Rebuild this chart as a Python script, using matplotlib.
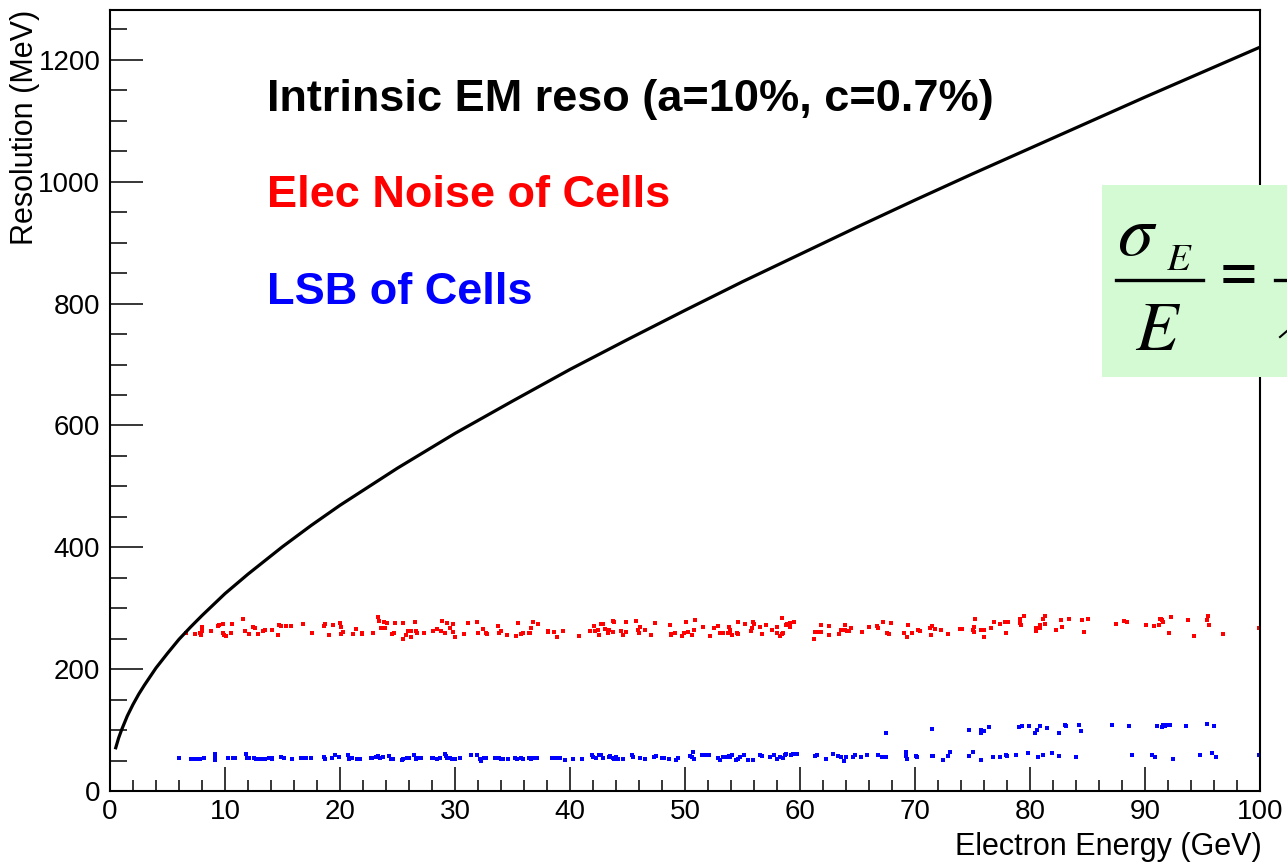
import numpy as np
import matplotlib
matplotlib.use('Agg')
import matplotlib.pyplot as plt
from matplotlib.patches import Rectangle
from matplotlib.lines import Line2D
from matplotlib.ticker import MultipleLocator

plt.rcParams['font.family'] = ['Liberation Sans', 'DejaVu Sans']
plt.rcParams['mathtext.fontset'] = 'stix'

# intrinsic EM resolution curve, GeV -> MeV
curve_e = [0.5, 0.75, 1, 1.5, 2, 2.5, 3, 4, 5, 6, 7, 8, 10, 12, 15, 17.5, 20, 25,
           30, 35, 40, 45, 50, 55, 60, 65, 70, 75, 80, 85, 90, 95, 100]
curve_mev = [71, 87, 100, 123, 142, 159, 174, 202, 226, 249, 269, 288, 324, 356,
             401, 436, 469, 530, 587, 640, 692, 741, 789, 836, 881, 926, 970,
             1013, 1055, 1097, 1139, 1180, 1221]

# electronic noise of cells (red points)
noise_e = [6.6, 7.4, 7.8, 7.9, 8.0, 8.0, 8.8, 9.4, 9.5, 9.8, 9.8, 9.9, 10.1, 10.5, 10.6,
           11.6, 11.7, 12.1, 12.4, 12.6, 12.9, 13.3, 13.5, 14.1, 14.6, 14.7, 14.9, 15.3,
           15.7, 16.8, 17.6, 18.6, 18.7, 19.0, 19.4, 20.0, 20.1, 20.1, 20.3, 21.1, 21.4,
           21.9, 21.9, 22.9, 23.3, 23.4, 23.6, 23.8, 23.9, 24.1, 24.5, 24.7, 24.8, 25.5,
           25.5, 25.7, 25.9, 26.2, 26.2, 26.5, 26.6, 26.7, 27.3, 28.1, 28.4, 28.8, 28.9,
           29.1, 29.3, 29.6, 29.8, 29.8, 30.0, 30.8, 31.1, 31.9, 32.0, 32.4, 32.7, 32.8,
           33.7, 33.8, 34.0, 34.5, 35.3, 35.5, 35.7, 35.9, 36.4, 36.5, 36.6, 36.8, 37.2,
           38.1, 38.1, 38.6, 38.9, 39.4, 40.8, 41.7, 42.1, 42.2, 42.4, 42.5, 42.7, 42.9,
           43.0, 43.3, 43.4, 43.7, 43.7, 43.8, 44.4, 44.6, 44.9, 44.9, 45.7, 45.9, 46.0,
           46.1, 46.5, 47.0, 47.4, 48.7, 48.8, 48.8, 49.1, 49.7, 49.9, 50.1, 50.3, 50.6,
           50.8, 50.9, 51.6, 52.2, 52.5, 52.9, 53.0, 53.3, 53.7, 53.8, 53.9, 53.9, 54.1,
           54.5, 54.6, 54.6, 55.2, 55.7, 55.8, 55.9, 56.0, 56.5, 56.7, 57.0, 57.6, 58.0,
           58.0, 58.3, 58.4, 58.5, 58.4, 58.8, 58.9, 59.1, 59.1, 59.5, 61.2, 61.3, 61.6,
           61.8, 61.8, 62.5, 62.5, 63.4, 63.6, 63.9, 63.9, 64.1, 64.3, 64.4, 65.4, 66.0,
           66.7, 66.8, 67.2, 67.6, 67.7, 67.9, 69.0, 69.3, 69.4, 69.7, 70.3, 70.4, 71.3,
           71.4, 71.5, 71.7, 72.3, 72.9, 73.9, 74.1, 75.0, 75.1, 75.1, 75.2, 75.7, 76.0,
           76.0, 76.6, 76.9, 77.4, 77.8, 77.9, 78.1, 79.1, 79.1, 79.2, 79.5, 80.5, 80.5,
           80.9, 80.9, 81.1, 81.3, 81.3, 82.3, 82.7, 82.8, 83.4, 84.5, 84.7, 85.0, 87.5,
           88.2, 88.4, 90.1, 90.8, 91.2, 91.3, 91.4, 91.5, 91.6, 92.1, 92.3, 93.7, 94.3,
           95.4, 95.5, 95.6, 96.8, 99.9]
noise_mev = [260, 258, 260, 256, 270, 263, 262, 271, 273, 274, 259, 256, 255, 259, 274,
             283, 263, 258, 269, 267, 257, 262, 264, 264, 256, 272, 271, 271,
             271, 274, 260, 271, 274, 256, 272, 276, 270, 258, 261, 257, 266,
             257, 260, 260, 285, 279, 267, 278, 267, 276, 258, 260, 276, 276,
             250, 256, 262, 253, 263, 278, 262, 260, 259, 263, 266, 262, 279,
             260, 275, 268, 274, 261, 253, 258, 276, 278, 259, 266, 260, 258,
             271, 259, 262, 256, 254, 275, 258, 259, 259, 259, 267, 278, 274,
             263, 261, 261, 252, 263, 255, 262, 271, 262, 264, 256, 274, 274,
             266, 260, 264, 261, 279, 278, 263, 256, 277, 261, 279, 264, 259,
             270, 265, 256, 276, 273, 258, 256, 260, 255, 260, 277, 261, 256,
             264, 280, 270, 255, 268, 271, 259, 260, 260, 270, 265, 260, 256,
             260, 258, 277, 274, 262, 268, 278, 274, 269, 258, 273, 264, 260,
             270, 255, 258, 259, 284, 273, 274, 269, 275, 277, 250, 261, 261,
             272, 261, 256, 271, 258, 265, 273, 265, 262, 262, 268, 261, 269,
             271, 267, 278, 259, 258, 275, 259, 253, 272, 260, 265, 262, 267,
             256, 271, 266, 264, 258, 266, 266, 265, 270, 261, 282, 265, 264,
             253, 268, 277, 274, 277, 259, 277, 282, 276, 273, 287, 268, 263,
             267, 272, 282, 274, 288, 265, 280, 270, 283, 280, 261, 283, 274,
             279, 278, 273, 271, 272, 283, 283, 280, 277, 260, 285, 280, 255,
             281, 287, 272, 258, 268]

# LSB of cells (blue points)
lsb_e = [6.0, 7.0, 7.3, 7.5, 7.8, 8.2, 9.1, 9.1, 9.1, 10.3, 10.7, 10.9, 11.8, 11.9, 12.1,
         12.5, 12.7, 12.9, 13.1, 13.5, 13.8, 14.1, 14.1, 14.9, 15.1, 15.8, 16.6, 16.8,
         17.0, 17.5, 18.6, 18.7, 19.3, 19.6, 19.9, 20.7, 20.8, 21.0, 21.5, 21.7, 22.7,
         22.8, 23.1, 23.3, 23.5, 23.7, 24.3, 24.4, 24.6, 25.4, 25.5, 25.8, 26.0, 26.4,
         26.6, 26.8, 27.0, 28.0, 28.1, 28.4, 28.7, 29.1, 29.2, 29.3, 29.6, 29.7, 30.0,
         30.4, 31.4, 31.9, 32.2, 32.3, 32.5, 32.7, 33.5, 33.8, 34.0, 34.2, 34.6, 35.2,
         35.4, 35.7, 35.9, 36.4, 36.6, 36.8, 37.1,
         38.4, 38.6, 38.8, 39.1, 39.6, 40.3, 41.0, 41.9, 42.0, 42.3, 42.5, 42.7, 42.9,
         43.4, 43.5, 43.7, 43.8, 44.0, 44.2, 44.6, 45.4, 45.5, 46.1, 46.5, 47.3, 47.5,
         48.0, 48.2, 48.6, 49.2, 49.4, 50.4, 50.6, 50.7, 50.8, 51.5, 51.7, 52.1, 52.9,
         53.0, 53.3, 53.6, 53.8, 53.9, 54.1, 54.4, 54.6, 54.8, 55.1, 55.5, 55.9, 56.5,
         56.7, 57.4, 57.7, 58.0, 58.3, 58.5, 58.7, 58.8, 59.2, 59.4, 59.7, 61.3, 61.5,
         62.3, 62.9, 63.3, 63.6, 63.8, 64.0, 64.6, 64.8, 65.3, 65.8, 66.8, 67.1, 67.5,
         67.5, 69.2, 69.2, 69.3,
         71.5, 74.7, 75.7, 75.7, 75.8, 76.0, 76.4, 79.0, 79.3, 79.9, 80.4, 80.6, 80.9,
         81.5, 82.5, 83.0, 83.1, 84.3, 84.4, 87.1, 88.6, 91.0, 91.5, 91.6, 91.7, 91.9,
         92.2, 93.6, 95.4, 96.0,
         70.1, 70.2, 71.5, 71.6, 72.4, 72.9, 73.0, 74.7, 75.0, 75.7, 76.8, 77.4, 77.9,
         78.0, 78.8, 79.8, 80.7, 81.1, 81.9, 82.5, 84.0, 88.9, 90.6, 90.9, 92.4, 94.8,
         95.8, 96.2, 99.9]
lsb_mev = [54.6, 52.9, 51.8, 51.8, 52.9, 54.6, 60.0, 55.7, 50.8, 53.5, 53.5, 53.5, 60.0, 53.5, 53.5,
           54.6, 52.9, 51.8, 51.8, 51.8, 54.0, 52.9, 54.6, 55.7, 53.5, 52.9, 54.0, 54.6,
           54.6, 53.5, 55.7, 51.8, 54.0, 59.5, 55.7, 58.4, 52.9, 54.0, 51.8, 52.9, 53.5,
           54.0, 55.7, 56.8, 54.6, 56.2, 56.8, 52.9, 51.8, 50.8, 52.4, 53.5, 54.0, 58.4,
           51.8, 54.6, 54.0, 54.6, 53.5, 52.9, 54.0, 60.0, 56.8, 53.5, 54.0, 52.4, 52.9,
           54.6, 58.4, 58.4, 52.4, 49.7, 53.5, 53.5, 54.6, 54.0, 52.9, 52.9, 52.9, 53.5,
           51.8, 54.0, 52.4, 53.5, 51.8, 54.6, 53.5,
           53.5, 54.0, 53.5, 54.6, 50.2, 52.4, 52.4, 58.9, 55.7, 54.6, 58.4, 58.4, 54.6,
           55.7, 56.8, 54.6, 52.4, 55.7, 52.9, 52.4, 58.4, 55.1, 54.6, 52.9, 55.1, 56.8,
           53.5, 54.6, 52.9, 50.2, 53.5, 57.8, 55.7, 64.4, 52.9, 58.4, 58.4, 58.4, 53.5,
           51.3, 55.1, 55.1, 56.8, 55.7, 58.4, 51.3, 52.4, 55.1, 58.4, 50.2, 50.2, 58.4,
           56.8, 55.7, 58.4, 51.8, 56.2, 54.0, 58.4, 60.0, 59.5, 60.6, 60.6, 56.8, 58.4,
           52.4, 60.6, 56.8, 55.1, 49.7, 55.1, 55.1, 58.4, 55.1, 58.4, 58.4, 55.1, 55.1,
           96.0, 64.4, 57.8, 51.8,
           101.5, 100.9, 100.9, 96.0, 98.8, 99.3, 104.8, 105.3, 107.0, 107.5, 96.0, 99.9, 107.0,
           103.7, 95.5, 109.1, 107.5, 108.6, 98.8, 108.0, 106.4, 107.0, 105.3, 108.6, 106.4, 109.1,
           109.1, 106.4, 109.7, 105.9,
           57.3, 55.1, 56.8, 57.3, 50.8, 57.8, 63.8, 57.8, 63.8, 50.2, 56.2, 55.7, 58.4,
           57.3, 59.0, 62.8, 55.1, 59.5, 62.2, 56.8, 55.1, 59.0, 59.5, 55.1, 52.4, 59.0,
           61.7, 55.7, 58.4]

W, H = 1287, 866


def px(x, y):
    # pixel position (from top-left) -> figure fraction
    return x / W, 1 - y / H


fig = plt.figure(figsize=(12.87, 8.66), dpi=100)
ax = fig.add_axes([110 / W, 75 / H, 1150 / W, 781 / H])

ax.plot(curve_e, curve_mev, color='black', lw=2.3, solid_joinstyle='round', zorder=3)
ax.plot(noise_e, noise_mev, ls='none', marker='s', ms=2.5, mew=0, color='#ff0000')
ax.plot(lsb_e, lsb_mev, ls='none', marker='s', ms=2.5, mew=0, color='#0000ff')

ax.set_xlim(0, 100)
ax.set_ylim(0, 1282)
ax.xaxis.set_major_locator(MultipleLocator(10))
ax.xaxis.set_minor_locator(MultipleLocator(2))
ax.yaxis.set_major_locator(MultipleLocator(200))
ax.yaxis.set_minor_locator(MultipleLocator(50))
ax.tick_params(axis='both', which='both', direction='in', width=1.1, labelsize=20,
               top=False, right=False)
ax.tick_params(axis='x', which='major', length=17, pad=6)
ax.tick_params(axis='x', which='minor', length=8)
ax.tick_params(axis='y', which='major', length=24, pad=7)
ax.tick_params(axis='y', which='minor', length=12)
for sp in ax.spines.values():
    sp.set_linewidth(1.5)

fig.text(*px(25, 10), 'Resolution (MeV)', rotation=90,
         ha='center', va='top', fontsize=22)
fig.text(*px(1262, 847), 'Electron Energy (GeV)',
         ha='right', va='center', fontsize=22)

fig.text(*px(267, 111), 'Intrinsic EM reso (a=10%, c=0.7%)',
         color='black', fontsize=32.5, fontweight='bold', va='baseline')
fig.text(*px(267, 207), 'Elec Noise of Cells',
         color='#ff0000', fontsize=32.5, fontweight='bold', va='baseline')
fig.text(*px(267, 304), 'LSB of Cells',
         color='#0000ff', fontsize=32.5, fontweight='bold', va='baseline')

# formula box on top of the frame, cut by the figure edge
bx, by = px(1102, 377)
box = Rectangle((bx, by), 1.0 - bx, 192 / H, transform=fig.transFigure,
                facecolor='#d4fad4', edgecolor='none', zorder=10)
fig.patches.append(box)
fig.text(*px(1117, 255), r'$\sigma$', fontsize=52, va='baseline', zorder=11)
fig.text(*px(1166, 270), r'$E$', fontsize=28, va='baseline', zorder=11)
fig.text(*px(1135, 350), r'$E$', fontsize=50, va='baseline', zorder=11)
fig.add_artist(Line2D([1116 / W, 1203 / W], [1 - 280 / H] * 2, color='black',
                      lw=2.4, transform=fig.transFigure, zorder=11))
fig.text(*px(1220, 296), '=', fontsize=48, fontweight='bold', va='baseline',
         family='Liberation Serif', zorder=11)
fig.add_artist(Line2D([1275 / W, 1.0], [1 - 280 / H] * 2, color='black',
                      lw=2.4, transform=fig.transFigure, zorder=11))
fig.add_artist(Line2D([1280 / W, 1.0], [1 - 337 / H, 1 - 331 / H], color='black',
                      lw=1.5, transform=fig.transFigure, zorder=11))

fig.savefig('out.png', dpi=100)
